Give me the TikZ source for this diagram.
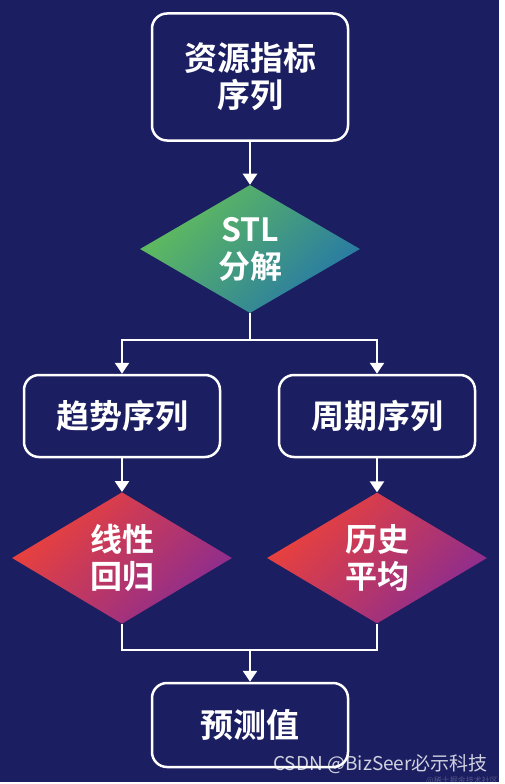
\documentclass[tikz,border=0pt]{standalone}
\usepackage{fontspec}
\setmainfont{Noto Sans CJK SC}[BoldFont={Noto Sans CJK SC Bold}]
\usetikzlibrary{shapes.geometric,arrows.meta}
\definecolor{navy}{HTML}{1B1E60}
\definecolor{gA}{HTML}{62BE5A}
\definecolor{gB}{HTML}{2678A6}
\definecolor{rA}{HTML}{EE4238}
\definecolor{rB}{HTML}{8A2C92}
\begin{document}
\begin{tikzpicture}[x=1pt,y=-1pt,
  box/.style={draw=white,line width=2.5pt,rounded corners=15pt,fill=navy,
    minimum width=196pt,inner sep=0pt,text=white,align=center,
    font=\bfseries\fontsize{33}{37}\selectfont},
  dia/.style={diamond,inner sep=0pt,minimum width=220pt,minimum height=120pt,
    text=white,align=center,font=\bfseries\fontsize{32}{37}\selectfont},
  green/.style={top color=gA,bottom color=gB,shading angle=45},
  red/.style={top color=rA,bottom color=rB,shading angle=45},
  conn/.style={draw=white,line width=2.5pt},
  arr/.style={conn,-{Triangle[length=11pt,width=14pt]}}]
\useasboundingbox (0,0) rectangle (504,784);
\fill[white] (0,0) rectangle (504,784);
\fill[navy] (0,0) rectangle (499,782);
% nodes
\node[box,minimum height=127pt] (src) at (250,77) {资源指标\\序列};
\node[dia,green] (stl) at (250,249) {STL\\分解};
\node[box,minimum height=82pt] (trend) at (122,416) {趋势序列};
\node[box,minimum height=82pt] (per) at (377,416) {周期序列};
\node[dia,red,minimum height=117pt] (lin) at (122,558) {线性\\回归};
\node[dia,red,minimum height=117pt] (hist) at (377,558) {历史\\平均};
\node[box,minimum height=84pt] (pred) at (250,725) {预测值};
\coordinate (split) at (250,340);
\coordinate (join) at (250,650);
% connectors
\draw[arr] (src) -- (stl);
\draw[conn] (stl.south) -- (split);
\draw[arr] (split) -| (trend.north);
\draw[arr] (split) -| (per.north);
\draw[arr] (trend) -- (lin);
\draw[arr] (per) -- (hist);
\draw[conn] (lin.south) |- (join);
\draw[conn] (hist.south) |- (join);
\draw[arr] (join) -- (pred);
% watermark
\node[anchor=base east,text=white,opacity=0.8,font=\fontsize{19}{19}\selectfont,inner sep=0pt] (wm) at (488,770) {CSDN @BizSeer必示科技};
\node[anchor=base east,text=white,opacity=0.25,font=\fontsize{8}{8}\selectfont,inner sep=0pt] (wm2) at (498,783) {@稀土掘金技术社区};
\end{tikzpicture}
\end{document}
